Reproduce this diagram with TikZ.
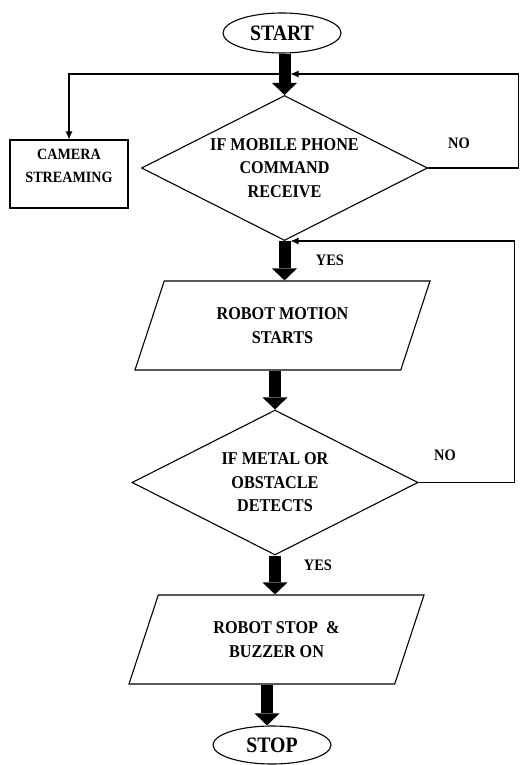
\documentclass[tikz,border=0pt]{standalone}
\usepackage{fontspec}
\setmainfont{Liberation Serif}[FakeStretch=0.9]
\usetikzlibrary{shapes.geometric,arrows.meta,calc}
\begin{document}
\begin{tikzpicture}[x=1pt,y=-1pt,
  txt/.style={font=\bfseries\fontsize{18}{23.5}\selectfont, align=center},
  term/.style={ellipse, draw, line width=1.1pt, minimum width=118pt, minimum height=40pt, inner sep=0pt, font=\bfseries\fontsize{22}{26}\selectfont},
  decision/.style={diamond, draw, line width=1.1pt, minimum width=286pt, minimum height=145pt, inner sep=0pt, shape aspect=2, txt},
  io/.style={trapezium, trapezium left angle=50.6, trapezium right angle=129.4, trapezium stretches body, draw, line width=1.1pt, minimum width=295pt, minimum height=89pt, inner sep=0pt, txt},
  procbox/.style={rectangle, draw, line width=1.1pt, minimum width=118pt, minimum height=68pt, inner sep=0pt, align=center, font=\bfseries\fontsize{15.7}{23}\selectfont, text depth=17pt},
  lbl/.style={font=\bfseries\fontsize{16}{19}\selectfont},
  bigarrow/.style={line width=12pt, -{Triangle[width=25pt,length=12pt,line width=0pt]}},
  flow/.style={line width=1.1pt, -{Latex[length=8pt,width=7pt]}}]
\fill[white] (0,0) rectangle (520,765);
\useasboundingbox (0,0) rectangle (520,765);

% nodes
\node[term] (start) at (282,33) {START};
\node[decision] (d1) at (284.5,168) {IF MOBILE PHONE\\COMMAND\\RECEIVE};
\node[procbox] (cam) at (69,174) {CAMERA\\STREAMING};
\node[io] (p1) at (282.5,325.5) {ROBOT MOTION\\STARTS};
\node[decision] (d2) at (275,482.5) {IF METAL OR\\OBSTACLE\\DETECTS};
\node[io] (p2) at (276.5,639.5) {ROBOT STOP\ \ \&\\BUZZER ON};
\node[term, minimum height=38pt] (stop) at (272,745) {STOP};

% labels
\node[lbl] (no1) at (459,143) {NO};
\node[lbl] (no2) at (445,455) {NO};
\node[lbl] (yes1) at (330,260) {YES};
\node[lbl] (yes2) at (318,565) {YES};

% junctions
\coordinate (j1) at (284.5,74);
\coordinate (j2) at (284.5,241);

% thin connectors
\draw[flow] (j1) -| (cam.north);
\draw[flow] (d1.east) -| (518.5,74) -- ([xshift=6pt]j1);
\draw[flow] (d2.east) -| (514.5,241) -- ([xshift=6pt]j2);

% thick arrows
\draw[bigarrow] (start.south -| d1.north) -- (d1.north);
\draw[bigarrow] (d1.south) -- (d1.south |- p1.north);
\draw[bigarrow] (p1.south -| d2.north) -- (d2.north);
\draw[bigarrow] (d2.south) -- (d2.south |- p2.north);
\draw[bigarrow] ([xshift=-9.5pt]p2.south) -- ([xshift=-9.5pt]p2.south |- stop.north);
\end{tikzpicture}
\end{document}
